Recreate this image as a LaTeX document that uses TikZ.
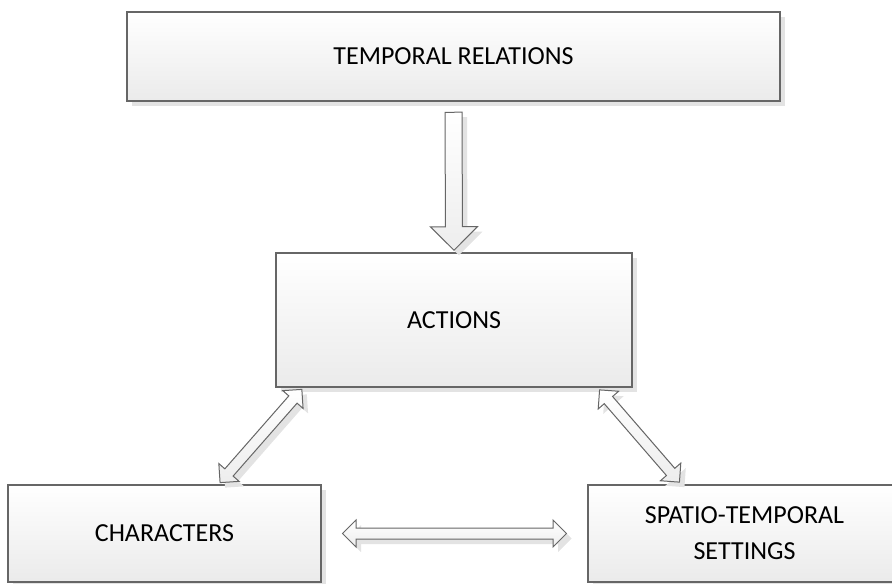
\documentclass[tikz,border=0pt]{standalone}
\usepackage{fontspec}
\setmainfont{Carlito}
\usetikzlibrary{shapes.arrows,shadows}

\begin{document}
\begin{tikzpicture}[x=0.5pt, y=-0.5pt, font=\fontsize{13}{18}\selectfont,
  shadowed/.style={general shadow={fill=black!11, shadow xshift=2.5pt, shadow yshift=-2.5pt}},
  box/.style={shadowed, draw=black!60, line width=0.6pt, top color=white, bottom color=black!8,
    text=black, align=center, inner sep=0pt},
  bigarrow/.style={single arrow, shadowed, draw=black!60, line width=0.5pt, top color=white,
    bottom color=black!7, inner sep=4pt, single arrow head extend=7.5pt, sloped, allow upside down},
  twoarrow/.style={double arrow, shadowed, draw=black!60, line width=0.5pt, top color=white,
    bottom color=black!7, inner sep=2.5pt, double arrow head extend=4pt, sloped, allow upside down}]
  \useasboundingbox (0,0) rectangle (892,583);
  % boxes
  \node[box, minimum width=326.5pt, minimum height=44.5pt] (trel) at (453.5,56.5) {TEMPORAL RELATIONS};
  \node[box, minimum width=178pt, minimum height=67pt] (act) at (454,320) {ACTIONS};
  \node[box, minimum width=156.5pt, minimum height=48.5pt] (chars) at (164.5,533.5) {CHARACTERS};
  \node[box, minimum width=156.5pt, minimum height=48.5pt] (sts) at (744.5,533.5) {SPATIO-TEMPORAL\\SETTINGS};
  % block arrows
  \path (trel.south) -- (act.north) node[bigarrow, midway, minimum height=69pt] (a1) {};
  \path ([xshift=14pt]act.south west) -- ([xshift=27pt]chars.north) node[twoarrow, midway, minimum height=62pt] (a2) {};
  \path ([xshift=-17.5pt]act.south east) -- ([xshift=47pt]sts.north west) node[twoarrow, midway, minimum height=61pt] (a3) {};
  \path (chars.east) -- (sts.west) node[twoarrow, midway, minimum height=112pt] (a4) {};
\end{tikzpicture}
\end{document}
